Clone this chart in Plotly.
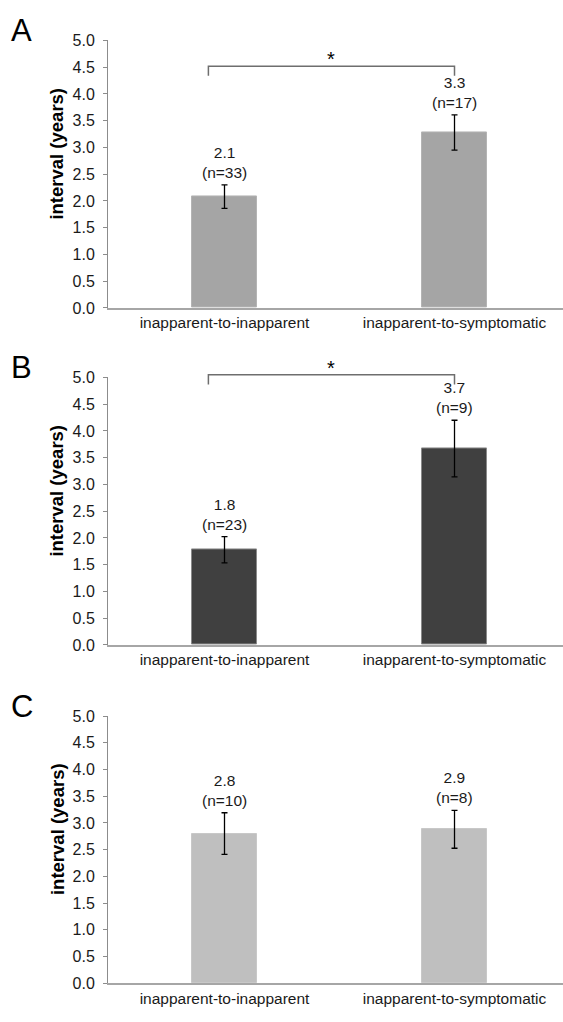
import plotly.graph_objects as go

# ---- data ----
panels = ["A", "B", "C"]
categories = ["inapparent-to-inapparent", "inapparent-to-symptomatic"]
means_A = [2.08, 3.28]
err_A = [0.22, 0.33]
n_A = [33, 17]
means_B = [1.78, 3.67]
err_B = [0.245, 0.53]
n_B = [23, 9]
means_C = [2.80, 2.88]
err_C = [0.39, 0.355]
n_C = [10, 8]
significant = [True, True, False]
y_ticks = [0, 0.5, 1.0, 1.5, 2.0, 2.5, 3.0, 3.5, 4.0, 4.5, 5.0]

means = [means_A, means_B, means_C]
errs = [err_A, err_B, err_C]
ns = [n_A, n_B, n_C]

# ---- style ----
bar_colors = ["#a5a5a5", "#404040", "#bfbfbf"]
edge_colors = ["#b4b4b4", "#8a8a8a", "#c8c8c8"]
bracket_levels = [4.52, 5.05, None]   # height of the significance bracket
bracket_drop = 0.18
bracket_left = -0.07
W, H = 563, 1022
plot_left = 108
plot_tops = [33, 375.7, 720]
plot_bottoms = [305, 647.7, 991.7]
x_range = [-0.5065, 1.4717]
font = "Liberation Sans, Arial, sans-serif"

fig = go.Figure()
annotations = []
shapes = []

for i, p in enumerate(panels):
    ax = "" if i == 0 else str(i + 1)
    xname, yname = "x" + ax, "y" + ax
    fig.add_trace(go.Bar(
        x=[0, 1], y=means[i], width=0.283,
        marker=dict(color=bar_colors[i], line=dict(color=edge_colors[i], width=1)),
        error_y=dict(type="data", array=errs[i], visible=True, color="#000000",
                     thickness=1.3, width=3),
        xaxis=xname, yaxis=yname, showlegend=False, hoverinfo="skip",
    ))
    dom_y = [1 - plot_bottoms[i] / H, 1 - plot_tops[i] / H]
    fig.update_layout(**{
        "xaxis" + ax: dict(
            domain=[plot_left / W, 1.0], anchor=yname, range=x_range,
            tickmode="array", tickvals=[0, 1], ticktext=categories,
            showline=True, linecolor="#a6a6a6", linewidth=1.5,
            ticks="", showgrid=False, zeroline=False,
            tickfont=dict(family=font, size=15.5, color="#1a1a1a"),
        ),
        "yaxis" + ax: dict(
            domain=dom_y, anchor=xname, range=[0, 5],
            tickmode="array", tickvals=y_ticks, tickformat=".1f",
            showline=True, linecolor="#8c8c8c", linewidth=1,
            ticks="outside", ticklen=4, tickcolor="#8c8c8c", tickwidth=1,
            ticklabelstandoff=5,
            showgrid=False, zeroline=False,
            tickfont=dict(family=font, size=16, color="#1a1a1a"),
        ),
    })
    # value / n labels above error bars
    for j in range(2):
        annotations.append(dict(
            x=j, y=means[i][j] + errs[i][j], xref=xname, yref=yname,
            text=f"{means[i][j]:.1f}<br>(n={ns[i][j]})", showarrow=False,
            yanchor="bottom", yshift=2,
            font=dict(family=font, size=15.5, color="#1a1a1a"),
        ))
    # y axis title
    annotations.append(dict(
        x=57 / W, y=0.577, xref="paper", yref=yname + " domain",
        text="<b>interval (years)</b>", textangle=-90, showarrow=False,
        xanchor="center", yanchor="middle",
        font=dict(family=font, size=18.5, color="#000000"),
    ))
    # panel letter
    annotations.append(dict(
        x=9 / W, y=1 - (plot_tops[i] - 10) / H, xref="paper", yref="paper",
        text=p, showarrow=False, xanchor="left", yanchor="middle",
        font=dict(family=font, size=31, color="#000000"),
    ))
    # significance bracket
    if significant[i]:
        lvl = bracket_levels[i]
        fx = lambda v: (v - x_range[0]) / (x_range[1] - x_range[0])
        fy = lambda v: v / 5.0
        xl, xr = fx(bracket_left), fx(1)
        path = (f"M {xl} {fy(lvl - bracket_drop)} L {xl} {fy(lvl)} "
                f"L {xr} {fy(lvl)} L {xr} {fy(lvl - bracket_drop)}")
        shapes.append(dict(
            type="path", path=path, xref=xname + " domain", yref=yname + " domain",
            line=dict(color="#6e6e6e", width=1.5),
        ))
        annotations.append(dict(
            x=(xl + xr) / 2, y=fy(lvl), xref=xname + " domain", yref=yname + " domain",
            text="*", showarrow=False, yanchor="bottom", yshift=-6,
            font=dict(family=font, size=20, color="#000000"),
        ))

fig.update_layout(
    width=W, height=H,
    margin=dict(l=0, r=0, t=0, b=0),
    paper_bgcolor="white", plot_bgcolor="white",
    annotations=annotations, shapes=shapes,
    bargap=0,
)

fig.write_html("out.html", config={"displayModeBar": False},
               post_script="document.body.style.margin='0';document.documentElement.style.margin='0';")
